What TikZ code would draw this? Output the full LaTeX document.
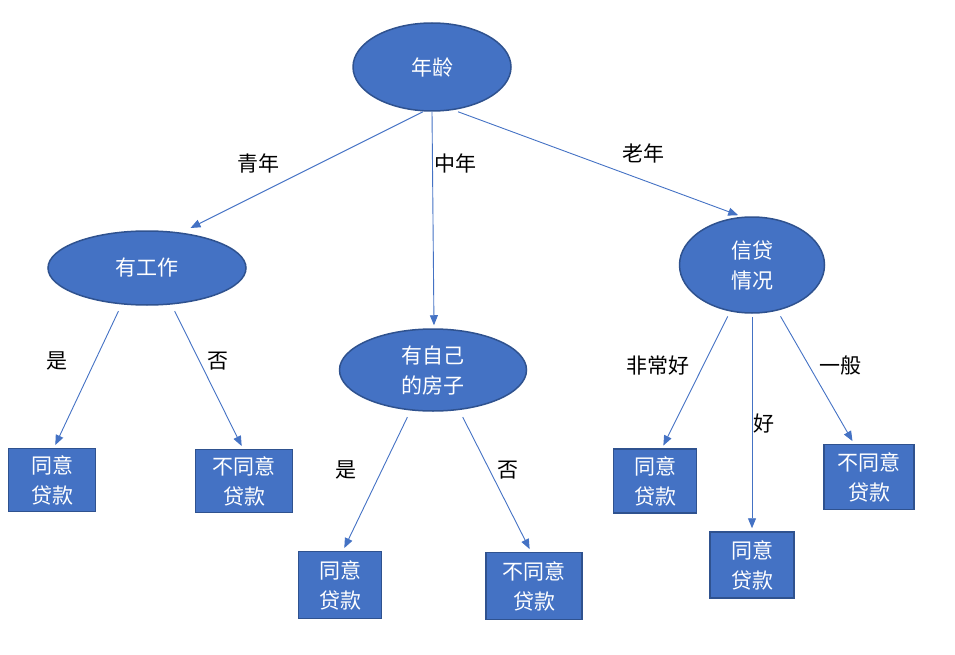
\documentclass[tikz,border=0pt]{standalone}
\usepackage{fontspec}
\setmainfont{Noto Sans CJK SC}
\usetikzlibrary{shapes.geometric,arrows.meta}
\definecolor{nodeblue}{HTML}{4472C4}
\definecolor{rimblue}{HTML}{2F528F}
\tikzset{
        attr/.style={ellipse,draw=rimblue,fill=nodeblue,line width=1.5pt,
                text=white,align=center,inner sep=0pt},
        leaf/.style={rectangle,draw=rimblue,fill=nodeblue,line width=1.5pt,
                text=white,align=center,inner sep=0pt},
        edge/.style={draw=nodeblue,line width=0.9pt,
                -{Triangle[length=10pt,width=8pt]},shorten >=3pt},
        branch/.style={text=black,inner sep=0pt}
}

\begin{document}
\begin{tikzpicture}[x=1pt,y=-1pt,font=\fontsize{21}{30}\selectfont]
                    \useasboundingbox (0,0) rectangle (955,655);

                    % attribute nodes
                    \node[attr,minimum width=158pt,minimum height=88pt] (age) at (432,67) {年龄};
                    \node[attr,minimum width=198pt,minimum height=74pt] (work) at (147,268) {有工作};
                    \node[attr,minimum width=187pt,minimum height=82pt] (house) at (433,370) {有自己\\的房子};
                    \node[attr,minimum width=145pt,minimum height=96pt] (credit) at (752,265) {信贷\\情况};

                    % leaves
                    \node[leaf,minimum width=87pt,minimum height=63pt] (agreeA) at (52,480) {同意\\贷款};
                    \node[leaf,minimum width=97pt,minimum height=63pt] (refuseA) at (244,481) {不同意\\贷款};
                    \node[leaf,minimum width=83pt,minimum height=67pt] (agreeB) at (340,585) {同意\\贷款};
                    \node[leaf,minimum width=96pt,minimum height=67pt] (refuseB) at (534,586) {不同意\\贷款};
                    \node[leaf,minimum width=83pt,minimum height=64pt] (agreeC) at (655,481) {同意\\贷款};
                    \node[leaf,minimum width=84pt,minimum height=66pt] (agreeD) at (752,565) {同意\\贷款};
                    \node[leaf,minimum width=90pt,minimum height=65pt] (refuseC) at (869,477) {不同意\\贷款};

                    % branches from the root
                    \draw[edge,shorten >=5pt] ([xshift=-9pt]age.south) -- ([xshift=39pt]work.north);
                    \draw[edge] (age.south) -- ([xshift=1pt]house.north);
                    \draw[edge] ([xshift=26pt]age.south) -- ([xshift=-11pt]credit.north);

                    \draw[edge,shorten <=6pt] ([xshift=-26pt]work.south) -- ([xshift=2pt]agreeA.north);
                    \draw[edge,shorten <=6pt] ([xshift=25pt]work.south) -- ([xshift=-1pt]refuseA.north);
                    \draw[edge,shorten <=6pt] ([xshift=-23pt]house.south) -- ([xshift=3pt]agreeB.north);
                    \draw[edge,shorten <=6pt] ([xshift=27pt]house.south) -- ([xshift=-3pt]refuseB.north);
                    \draw[edge,shorten <=3pt] ([xshift=-23pt]credit.south) -- ([xshift=7pt]agreeC.north);
                    \draw[edge,shorten <=3pt] (credit.south) -- (agreeD.north);
                    \draw[edge,shorten <=3pt] ([xshift=27pt]credit.south) -- ([xshift=-15pt]refuseC.north);

                    % branch labels
                    \node[branch] (young) at (258,163) {青年};
                    \node[branch] (middle) at (455,163) {中年};
                    \node[branch] (old) at (643,153) {老年};
                    \node[branch] (workyes) at (57,361) {是};
                    \node[branch] (workno) at (218,361) {否};
                    \node[branch] (houseyes) at (346,470) {是};
                    \node[branch] (houseno) at (508,470) {否};
                    \node[branch] (verygood) at (658,366) {非常好};
                    \node[branch] (good) at (764,424) {好};
                    \node[branch] (normal) at (840,366) {一般};
                \end{tikzpicture}
\end{document}
